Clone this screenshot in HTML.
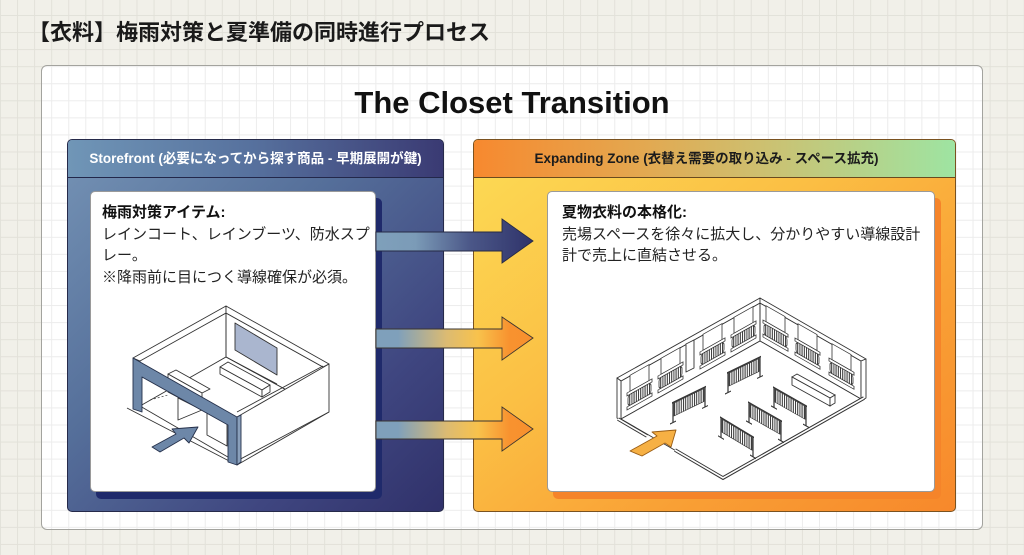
<!DOCTYPE html>
<html><head><meta charset="utf-8">
<style>
*{box-sizing:border-box;margin:0;padding:0}
html,body{width:1024px;height:555px;overflow:hidden}
body{position:relative;background-color:#f1f0e9;
background-image:linear-gradient(to right,#e2e1d9 1px,transparent 1px),linear-gradient(to bottom,#e2e1d9 1px,transparent 1px);
background-size:17.07px 17.07px;background-position:0 15px;
font-family:"Liberation Sans","Noto Sans CJK JP",sans-serif;}
.h1{position:absolute;left:28px;top:18px;font-size:22px;line-height:30px;font-weight:bold;color:#1a1a1a;white-space:nowrap;font-family:"Liberation Sans","Noto Sans CJK JP",sans-serif}
.card{position:absolute;left:41px;top:65px;width:942px;height:465px;border:1px solid #a3a39e;border-radius:6px;background-color:#fff;
background-image:linear-gradient(to right,#ececec 1px,transparent 1px),linear-gradient(to bottom,#ececec 1px,transparent 1px);
background-size:17.07px 17.07px;background-position:9.2px 0.2px}
.title{position:absolute;left:0;width:1024px;top:85px;text-align:center;font-size:31px;line-height:36px;font-weight:bold;color:#111;letter-spacing:0}
.panel{position:absolute;top:139px;height:373px;border-radius:5px;overflow:hidden}
.lp{left:67px;width:377px;border:1px solid #262a4a;background:linear-gradient(to bottom right,#7593b5 0%,#556f9a 40%,#3f4680 75%,#30316a 100%)}
.rp{left:473px;width:483px;border:1px solid #7a5220;background:linear-gradient(to bottom right,#fcdc55 0%,#fbbf44 40%,#f9a035 70%,#f7882b 100%)}
.hd{height:38px;line-height:37px;text-align:center;font-size:13.5px;font-weight:bold;white-space:nowrap}
.lp .hd{background:linear-gradient(to right,#7096b7,#56709d 50%,#3a3a73);color:#fff;border-bottom:1px solid #22274a}
.rp .hd{background:linear-gradient(to right,#f7892f 0%,#e3a850 35%,#cdc070 60%,#9ee4a2 100%);color:#1c1c1c;border-bottom:1px solid #6a4a1e;padding-right:16px}
.inner{position:absolute;top:191px;height:301px;background:#fff;border-radius:5px;border:1px solid #9a9a9a}
.li{left:90px;width:286px;box-shadow:6px 7px 0 #1f2a6b}
.ri{left:547px;width:388px;box-shadow:6px 7px 0 #f5842a}
.tx{position:absolute;top:10px;font-size:15px;line-height:21.5px;color:#222;white-space:nowrap}
.tx b{color:#111}
.li .tx{left:11px}
.ri .tx{left:14px}
svg{position:absolute;left:0;top:0}
</style></head><body>
<div class="h1">【衣料】梅雨対策と夏準備の同時進行プロセス</div>
<div class="card"></div>
<div class="title">The Closet Transition</div>
<div class="panel lp"><div class="hd">Storefront (必要になってから探す商品 - 早期展開が鍵)</div></div>
<div class="panel rp"><div class="hd">Expanding Zone (衣替え需要の取り込み - スペース拡充)</div></div>
<div class="inner li"><div class="tx"><b>梅雨対策アイテム:</b><br>レインコート、レインブーツ、防水スプ<br>レー。<br>※降雨前に目につく導線確保が必須。</div></div>
<div class="inner ri"><div class="tx"><b>夏物衣料の本格化:</b><br>売場スペースを徐々に拡大し、分かりやすい導線設計<br>計で売上に直結させる。</div></div>

<svg width="1024" height="555" viewBox="0 0 1024 555">
<defs>
<linearGradient id="g1" x1="376" y1="0" x2="533" y2="0" gradientUnits="userSpaceOnUse">
<stop offset="0" stop-color="#7fa0bb"/><stop offset="0.25" stop-color="#7b9bb7"/><stop offset="0.6" stop-color="#4b5788"/><stop offset="1" stop-color="#2f336a"/></linearGradient>
<linearGradient id="g2" x1="376" y1="0" x2="533" y2="0" gradientUnits="userSpaceOnUse">
<stop offset="0" stop-color="#7fa0bb"/><stop offset="0.14" stop-color="#7fa0bb"/><stop offset="0.45" stop-color="#dcbb72"/><stop offset="0.65" stop-color="#f8c24c"/><stop offset="0.85" stop-color="#f8922f"/><stop offset="1" stop-color="#f7902e"/></linearGradient>
<pattern id="st" width="2.2" height="30" patternUnits="userSpaceOnUse"><rect width="2.2" height="30" fill="#fff"/><rect width="1" height="30" fill="#333"/></pattern>
<g id="wu">
<rect x="3" y="-38" width="19" height="16" fill="#fff" stroke="#333" stroke-width="0.8"/>
<rect x="0" y="-22" width="25" height="3" fill="#fff" stroke="#333" stroke-width="0.8"/>
<rect x="1" y="-19" width="23" height="11" rx="3" fill="url(#st)" stroke="#333" stroke-width="0.8"/>
<rect x="0" y="-8" width="25" height="3" fill="#fff" stroke="#333" stroke-width="0.8"/>
</g>
<g id="fr">
<rect x="2" y="1" width="30" height="13" fill="url(#st)" stroke="#333" stroke-width="0.7"/>
<line x1="0" y1="0" x2="34" y2="0" stroke="#333" stroke-width="1.4"/>
<line x1="1" y1="0" x2="1" y2="20" stroke="#333" stroke-width="1.2"/>
<line x1="33" y1="0" x2="33" y2="20" stroke="#333" stroke-width="1.2"/>
<line x1="-2" y1="20" x2="4" y2="20" stroke="#333" stroke-width="1.2"/>
<line x1="30" y1="20" x2="36" y2="20" stroke="#333" stroke-width="1.2"/>
</g>
</defs>

<!-- arrows -->
<polygon points="376,232 502,232 502,219 533,241 502,263 502,251 376,251" fill="url(#g1)" stroke="#262a45" stroke-width="0.9"/>
<polygon points="376,329 502,329 502,317 533,338 502,360 502,348 376,348" fill="url(#g2)" stroke="#3a3430" stroke-width="0.9"/>
<polygon points="376,421 502,421 502,407 533,429 502,451 502,439 376,439" fill="url(#g2)" stroke="#3a3430" stroke-width="0.9"/>

<!-- left illustration -->
<g stroke="#333" stroke-width="0.9" stroke-linejoin="round">
<polygon points="226,313 140,360 140,408 226,357" fill="#fff"/>
<polygon points="226,313 323,367 323,410 226,357" fill="#fff"/>
<polygon points="226,357 140,406 233,460 323,410" fill="#fff"/>
<polygon points="226,306 133,358 140,361 226,313" fill="#fff"/>
<polygon points="226,306 329,364 323,367 226,313" fill="#fff"/>
<line x1="226" y1="313" x2="226" y2="357"/>
<line x1="226" y1="357" x2="277" y2="384"/>
<line x1="283" y1="388" x2="327" y2="411" stroke-dasharray="2,2" stroke-width="0.7"/>
<line x1="150" y1="400" x2="168" y2="395" stroke-dasharray="2,2" stroke-width="0.7"/>
<polygon points="235,323 277,348 277,375 235,350" fill="#aab6cf"/>
<polygon points="220,367 228,362 270,385 262,390" fill="#fff"/>
<polygon points="220,367 262,390 262,397 220,374" fill="#fff"/>
<polygon points="262,390 270,385 270,392 262,397" fill="#fff"/>
<polygon points="168,374 176,370 210,389 202,393" fill="#fff"/>
<polygon points="168,374 202,393 202,410 168,392" fill="#fff"/>
<polygon points="178,398 178,420 202,410" fill="#fff"/>
<polygon points="207,413 227,424 227,446 207,435" fill="#fff"/>
<polygon points="237,417 329,364 329,412 237,465" fill="#fff"/>
<line x1="237" y1="412" x2="323" y2="366"/>
<polyline points="127,408 233,463 329,412" fill="none"/>
<polygon points="133,358 237,417 237,465 228,462 228,425 142,377 142,412 133,409" fill="#6d87a8" stroke="#25304a"/>
<polygon points="237,417 241,415 241,462 237,465" fill="#8aa0bc" stroke="#25304a"/>
<polygon points="152,447 176,434 172,429 198,427 189,443 184,438 160,452" fill="#6d87a8" stroke="#25304a"/>
</g>

<!-- right illustration -->
<g stroke="#333" stroke-width="0.9" stroke-linejoin="round">
<polygon points="760,303 621,381 621,419 760,341" fill="#fff"/>
<polygon points="760,303 861,361 861,399 760,341" fill="#fff"/>
<polygon points="760,341 621,419 723,478 861,399" fill="#fff"/>
<polygon points="760,298 617,378 621,381 760,303" fill="#fff"/>
<polygon points="760,298 866,359 861,361 760,303" fill="#fff"/>
<polygon points="617,378 621,381 621,420 617,418" fill="#fff"/>
<polygon points="861,361 866,359 866,398 861,401" fill="#fff"/>
<line x1="760" y1="303" x2="760" y2="341"/>
<polygon points="686,344 694,340 694,368 686,372" fill="#fff"/>
</g>
<polyline points="618,419 647,436" fill="none" stroke="#333" stroke-width="3.6"/>
<polyline points="618,419 647,436" fill="none" stroke="#fff" stroke-width="1.6"/>
<polyline points="675,450 723,478 864,398" fill="none" stroke="#333" stroke-width="3.6" stroke-linejoin="miter"/>
<polyline points="675,450 723,478 864,398" fill="none" stroke="#fff" stroke-width="1.6" stroke-linejoin="miter"/>
<!-- wall units left wall -->
<use href="#wu" transform="matrix(1,-0.563,0,1,627,415)"/>
<use href="#wu" transform="matrix(1,-0.563,0,1,658,398)"/>
<use href="#wu" transform="matrix(1,-0.563,0,1,700,374)"/>
<use href="#wu" transform="matrix(1,-0.563,0,1,731,357)"/>
<!-- wall units right wall -->
<use href="#wu" transform="matrix(1,0.571,0,1,763,342)"/>
<use href="#wu" transform="matrix(1,0.571,0,1,795,360)"/>
<use href="#wu" transform="matrix(1,0.571,0,1,829,380)"/>
<!-- floor racks -->
<use href="#fr" transform="matrix(1,-0.485,0,1,672,403)"/>
<use href="#fr" transform="matrix(1,-0.485,0,1,727,373)"/>
<g stroke="#333" stroke-width="0.9">
<polygon points="792,377 797,374 835,395 830,398" fill="#fff"/>
<polygon points="792,377 830,398 830,406 792,385" fill="#fff"/>
<polygon points="830,398 835,395 835,403 830,406" fill="#fff"/>
</g>
<use href="#fr" transform="matrix(1,0.57,0,1,773,387)"/>
<use href="#fr" transform="matrix(1,0.57,0,1,748,402)"/>
<use href="#fr" transform="matrix(1,0.6,0,1,720,417)"/>
<polygon points="630,451 657,436 652,432 676,430 671,447 665,443 642,456" fill="#f6b044" stroke="#9a5d14" stroke-width="0.9" stroke-linejoin="round"/>
</svg>
</body></html>
